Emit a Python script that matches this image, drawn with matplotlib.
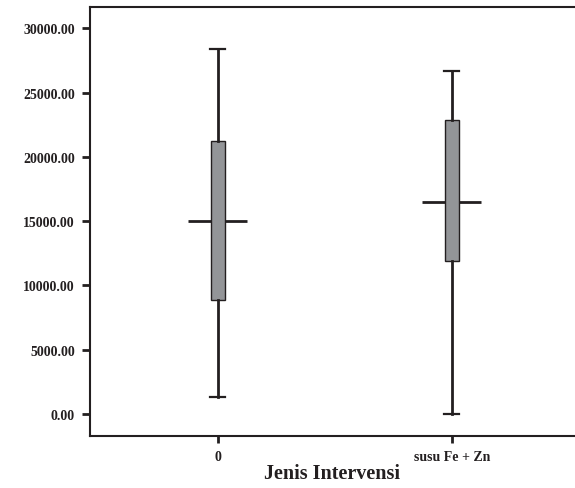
import matplotlib
matplotlib.use("Agg")
import matplotlib.pyplot as plt

# =========================================================================
# DATA
# =========================================================================
groups   = ["0", "susu Fe + Zn"]
whis_lo  = [1300, 0]
q1       = [8900, 11900]
median   = [15000, 16500]
q3       = [21200, 22900]
whis_hi  = [28400, 26700]
yticks   = [0, 5000, 10000, 15000, 20000, 25000, 30000]

INK  = "#231f20"
FILL = "#939598"

plt.rcParams["font.family"] = ["Liberation Serif", "DejaVu Serif"]
plt.rcParams["font.weight"] = "bold"

fig = plt.figure(figsize=(5.75, 4.89), dpi=100)
ax = fig.add_axes([0.1565, 0.1070, 0.8435, 0.8766])

stats = []
for i, g in enumerate(groups):
    stats.append({"label": g, "med": median[i], "q1": q1[i], "q3": q3[i],
                  "whislo": whis_lo[i], "whishi": whis_hi[i], "fliers": []})

pos = list(range(len(groups)))
ax.bxp(stats, positions=pos, widths=0.06, capwidths=0.065,
       showfliers=False, patch_artist=True,
       boxprops=dict(facecolor=FILL, edgecolor=INK, linewidth=1.0),
       whiskerprops=dict(color=INK, linewidth=2.0),
       capprops=dict(color=INK, linewidth=1.6),
       medianprops=dict(color=INK, linewidth=0))

# SPSS-style wide median bar
ax.hlines(median, [p - 0.125 for p in pos], [p + 0.125 for p in pos],
          color=INK, linewidth=2.0, zorder=1)

ax.set_xlim(-0.546, 1.527)
ax.set_ylim(-1690, 31650)
ax.set_yticks(yticks)
ax.set_yticklabels([f"{v:.2f}" for v in yticks])
ax.set_xticks(pos)
ax.set_xticklabels(groups)

ax.tick_params(axis="y", direction="out", length=6, width=2, color=INK,
               labelsize=10, pad=5, labelcolor=INK)
ax.tick_params(axis="x", direction="out", length=5, width=2, color=INK,
               labelsize=10, pad=5, labelcolor=INK)

for s in ["left", "bottom", "top"]:
    ax.spines[s].set_color(INK)
    ax.spines[s].set_linewidth(1.5)
ax.spines["right"].set_visible(False)

ax.set_xlabel("Jenis Intervensi", fontsize=14.5, fontweight="bold",
              color=INK, labelpad=0)

fig.savefig("out.png", dpi=100)
